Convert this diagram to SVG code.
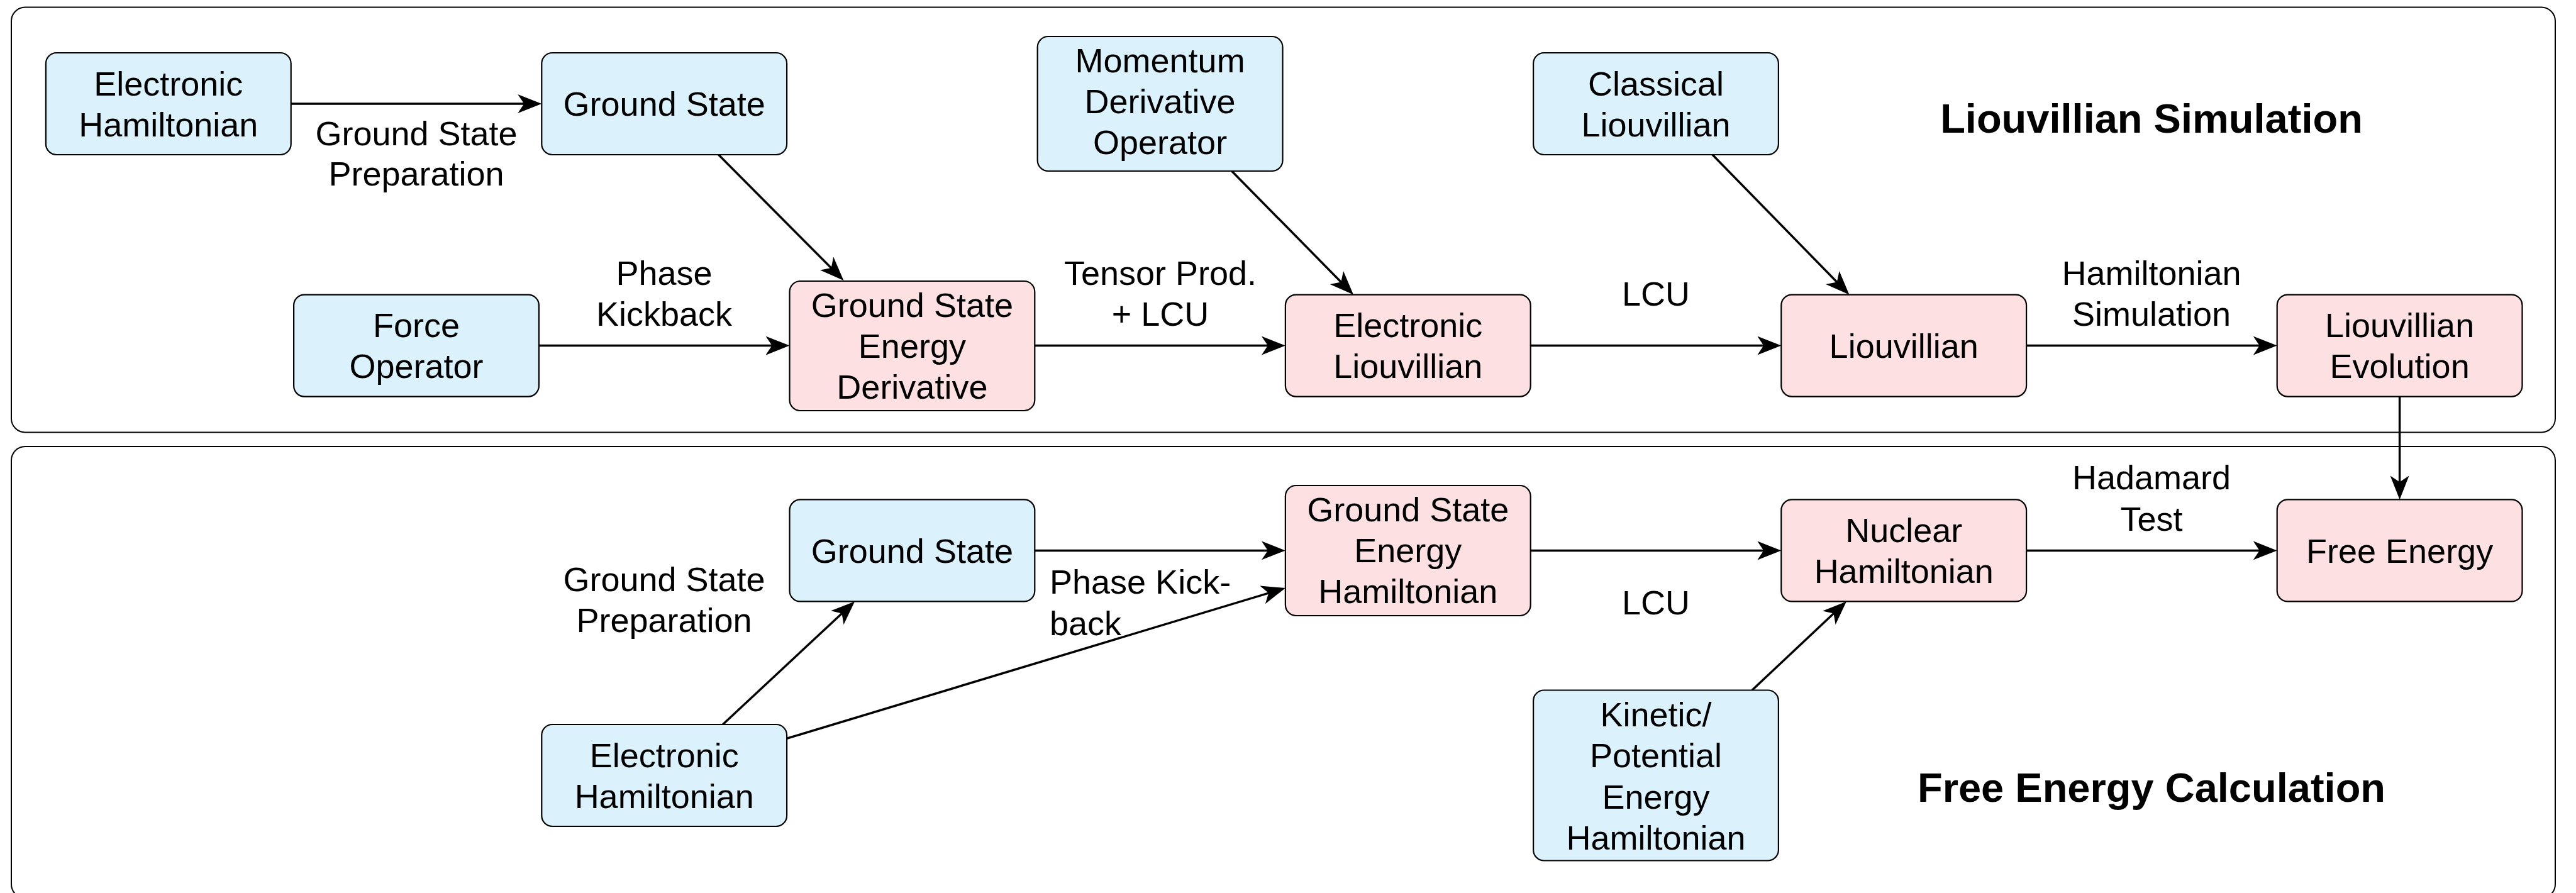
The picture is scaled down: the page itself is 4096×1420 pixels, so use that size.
<svg xmlns="http://www.w3.org/2000/svg" width="4096" height="1420" viewBox="0 0 4096 1420">
<style>
.panel{fill:#ffffff;stroke:#000;stroke-width:2}
.blue{fill:#dbf1fb;stroke:#000;stroke-width:2.2}
.pink{fill:#fde0e2;stroke:#000;stroke-width:2.2}
text{font-family:"Liberation Sans",Arial,Helvetica,sans-serif;font-size:54px;fill:#000;text-anchor:middle}
.title{font-size:65px;font-weight:bold}
.left{text-anchor:start}
.edge{fill:none;stroke:#000;stroke-width:3.5;stroke-linecap:butt;marker-end:url(#arrow)}
</style>
<defs>
<marker id="arrow" markerUnits="userSpaceOnUse" markerWidth="40" markerHeight="32" refX="32" refY="15" orient="auto">
<path d="M0,0 L38,15 L0,30 L10,15 Z" fill="#000"/>
</marker>
</defs>
<rect width="4096" height="1420" fill="#ffffff"/>
<g id="panel-liouvillian">
<rect class="panel" x="18" y="11.5" width="4045" height="676" rx="22"/>
<text class="title" x="3421" y="211">Liouvillian Simulation</text>
</g>
<g id="panel-free-energy">
<rect class="panel" x="18" y="710" width="4045" height="718" rx="22"/>
<text class="title" x="3421" y="1275">Free Energy Calculation</text>
</g>
<g id="connectors">
<path class="edge" d="M462.7,165 L855.3,165"/>
<path class="edge" d="M1142.3,245.8 L1337.2,441.7"/>
<path class="edge" d="M856.9,549.6 L1249.5,549.6"/>
<path class="edge" d="M1645.3,549.6 L2037.9,549.6"/>
<path class="edge" d="M1958.8,272.2 L2147.8,464.3"/>
<path class="edge" d="M2433.7,549.6 L2826.3,549.6"/>
<path class="edge" d="M2722.7,245.8 L2936.2,464.3"/>
<path class="edge" d="M3222.1,549.6 L3614.7,549.6"/>
<path class="edge" d="M3815.6,630.6 L3815.6,788.4"/>
<path class="edge" d="M1645.3,875.4 L2037.9,875.4"/>
<path class="edge" d="M1149.3,1152 L1354.7,960.5"/>
<path class="edge" d="M1251.1,1174.3 L2038.2,936.7"/>
<path class="edge" d="M2433.7,875.4 L2826.3,875.4"/>
<path class="edge" d="M2785.9,1097.5 L2931.6,960.5"/>
<path class="edge" d="M3222.1,875.4 L3614.7,875.4"/>
<text x="662" y="231">Ground State</text>
<text x="662" y="295">Preparation</text>
<text x="1056" y="453">Phase</text>
<text x="1056" y="518">Kickback</text>
<text x="1845" y="453">Tensor Prod.</text>
<text x="1845" y="518">+ LCU</text>
<text x="2633" y="486">LCU</text>
<text x="3421" y="453">Hamiltonian</text>
<text x="3421" y="518">Simulation</text>
<text x="1056" y="940">Ground State</text>
<text x="1056" y="1005">Preparation</text>
<text class="left" x="1669" y="944">Phase Kick-</text>
<text class="left" x="1669" y="1010">back</text>
<text x="2633" y="977">LCU</text>
<text x="3421" y="778">Hadamard</text>
<text x="3421" y="844">Test</text>
</g>
<g id="node-electronic-hamiltonian-top">
<rect class="blue" x="72.9" y="84" width="389.8" height="162" rx="17"/>
<text x="267.8" y="151.5">Electronic</text>
<text x="267.8" y="216.5">Hamiltonian</text>
</g>
<g id="node-ground-state-top">
<rect class="blue" x="861.3" y="84" width="389.8" height="162" rx="17"/>
<text x="1056.2" y="184">Ground State</text>
</g>
<g id="node-force-operator">
<rect class="blue" x="467.1" y="468.6" width="389.8" height="162" rx="17"/>
<text x="662" y="536">Force</text>
<text x="662" y="601">Operator</text>
</g>
<g id="node-gs-energy-derivative">
<rect class="pink" x="1255.5" y="447" width="389.8" height="206" rx="17"/>
<text x="1450.4" y="504">Ground State</text>
<text x="1450.4" y="569">Energy</text>
<text x="1450.4" y="634">Derivative</text>
</g>
<g id="node-momentum-derivative-operator">
<rect class="blue" x="1649.7" y="58" width="389.8" height="214" rx="17"/>
<text x="1844.6" y="115">Momentum</text>
<text x="1844.6" y="180">Derivative</text>
<text x="1844.6" y="245">Operator</text>
</g>
<g id="node-electronic-liouvillian">
<rect class="pink" x="2043.9" y="468.6" width="389.8" height="162" rx="17"/>
<text x="2238.8" y="536">Electronic</text>
<text x="2238.8" y="601">Liouvillian</text>
</g>
<g id="node-classical-liouvillian">
<rect class="blue" x="2438.1" y="84" width="389.8" height="162" rx="17"/>
<text x="2633" y="151.5">Classical</text>
<text x="2633" y="216.5">Liouvillian</text>
</g>
<g id="node-liouvillian">
<rect class="pink" x="2832.3" y="468.6" width="389.8" height="162" rx="17"/>
<text x="3027.2" y="569">Liouvillian</text>
</g>
<g id="node-liouvillian-evolution">
<rect class="pink" x="3620.7" y="468.6" width="389.8" height="162" rx="17"/>
<text x="3815.6" y="536">Liouvillian</text>
<text x="3815.6" y="601">Evolution</text>
</g>
<g id="node-ground-state-bottom">
<rect class="blue" x="1255.5" y="794.4" width="389.8" height="162" rx="17"/>
<text x="1450.4" y="894.5">Ground State</text>
</g>
<g id="node-electronic-hamiltonian-bottom">
<rect class="blue" x="861.3" y="1152" width="389.8" height="162" rx="17"/>
<text x="1056.2" y="1219.5">Electronic</text>
<text x="1056.2" y="1284.5">Hamiltonian</text>
</g>
<g id="node-gs-energy-hamiltonian">
<rect class="pink" x="2043.9" y="772" width="389.8" height="207" rx="17"/>
<text x="2238.8" y="829">Ground State</text>
<text x="2238.8" y="894">Energy</text>
<text x="2238.8" y="959">Hamiltonian</text>
</g>
<g id="node-nuclear-hamiltonian">
<rect class="pink" x="2832.3" y="794.4" width="389.8" height="162" rx="17"/>
<text x="3027.2" y="862">Nuclear</text>
<text x="3027.2" y="927">Hamiltonian</text>
</g>
<g id="node-kinetic-potential">
<rect class="blue" x="2438.1" y="1097.5" width="389.8" height="271" rx="17"/>
<text x="2633" y="1155">Kinetic/</text>
<text x="2633" y="1220">Potential</text>
<text x="2633" y="1285.5">Energy</text>
<text x="2633" y="1351">Hamiltonian</text>
</g>
<g id="node-free-energy">
<rect class="pink" x="3620.7" y="794.4" width="389.8" height="162" rx="17"/>
<text x="3815.6" y="894.5">Free Energy</text>
</g>
</svg>
